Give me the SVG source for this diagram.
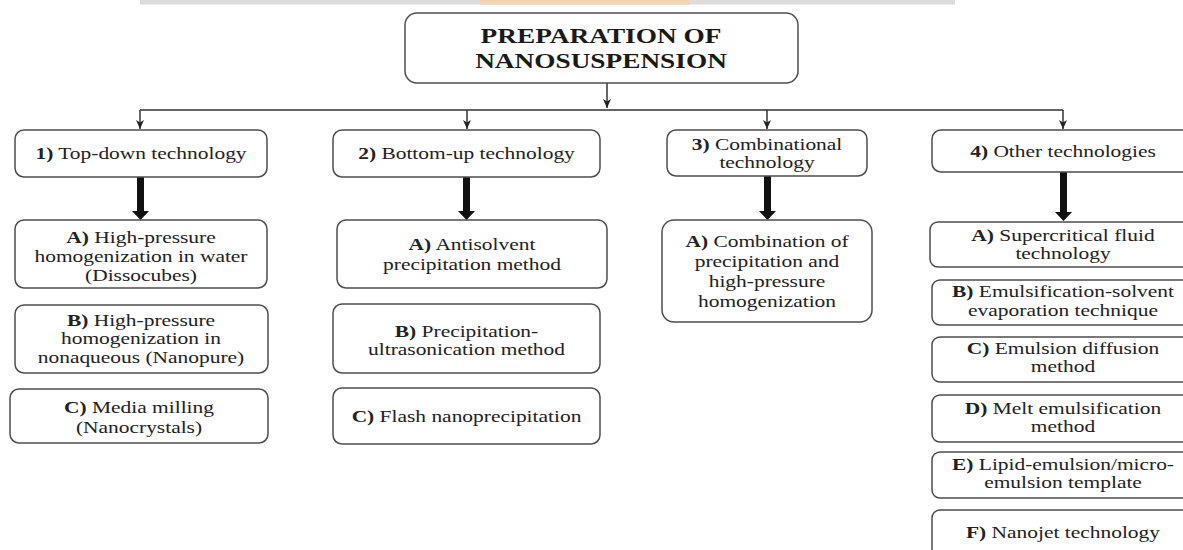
<svg xmlns="http://www.w3.org/2000/svg" width="1183" height="550" viewBox="0 0 1183 550">
<defs>
<style>
.box{fill:#fff;stroke:#4d4d4d;stroke-width:1.5}
.t{font-family:"Liberation Serif","Times New Roman",serif;font-size:16px;fill:#222;text-anchor:middle}
.b{font-weight:bold}
.title{font-size:21px;font-weight:bold;fill:#1a1a1a}
.thin{fill:none;stroke:#333;stroke-width:1.5}
.thick{fill:#111;stroke:none}
</style>
<marker id="ah" markerUnits="userSpaceOnUse" markerWidth="10" markerHeight="10" refX="9" refY="5" orient="auto">
<path d="M0,1 L9,5 L0,9 L2.5,5 z" fill="#222"/>
</marker>
</defs>
<rect width="1183" height="550" fill="#fff"/>
<g id="watermark">
<rect x="140" y="0" width="815" height="4.5" fill="#dcdcdc"/>
<rect x="480" y="0" width="210" height="4.5" fill="#f6d2b0"/>
</g>
<g id="connectors">
<path class="thin" d="M607,83 V108" marker-end="url(#ah)"/>
<path class="thin" d="M140,110 H1063"/>
<path class="thin" d="M140,110 V129" marker-end="url(#ah)"/>
<path class="thin" d="M467,110 V129" marker-end="url(#ah)"/>
<path class="thin" d="M767,110 V129" marker-end="url(#ah)"/>
<path class="thin" d="M1063,110 V129" marker-end="url(#ah)"/>
<path class="thick" d="M137,177 h7 v34 h5 l-8.5,9 l-8.5,-9 h5 z"/>
<path class="thick" d="M463,177 h7 v34 h5 l-8.5,9 l-8.5,-9 h5 z"/>
<path class="thick" d="M764,176 h7 v35 h5 l-8.5,9 l-8.5,-9 h5 z"/>
<path class="thick" d="M1060,172 h7 v40 h5 l-8.5,9 l-8.5,-9 h5 z"/>
</g>
<g id="root">
<rect class="box" x="405" y="13" width="393" height="70" rx="12"/>
<text class="t title" transform="translate(601,0) scale(1.3,1)"><tspan x="0" y="43">PREPARATION OF</tspan><tspan x="0" y="68">NANOSUSPENSION</tspan></text>
</g>
<g id="n1">
<rect class="box" x="15" y="130" width="252" height="47" rx="9"/>
<text class="t" transform="translate(141,159) scale(1.34,1)"><tspan class="b">1)</tspan> Top-down technology</text>
</g>
<g id="n1a">
<rect class="box" x="15" y="220" width="252" height="68" rx="9"/>
<text class="t" transform="translate(141,0) scale(1.34,1)"><tspan x="0" y="243"><tspan class="b">A)</tspan> High-pressure</tspan><tspan x="0" y="262">homogenization in water</tspan><tspan x="0" y="281">(Dissocubes)</tspan></text>
</g>
<g id="n1b">
<rect class="box" x="15" y="305" width="253" height="68" rx="9"/>
<text class="t" transform="translate(141,0) scale(1.34,1)"><tspan x="0" y="326"><tspan class="b">B)</tspan> High-pressure</tspan><tspan x="0" y="344">homogenization in</tspan><tspan x="0" y="363">nonaqueous (Nanopure)</tspan></text>
</g>
<g id="n1c">
<rect class="box" x="10" y="389" width="258" height="54" rx="9"/>
<text class="t" transform="translate(139,0) scale(1.34,1)"><tspan x="0" y="413"><tspan class="b">C)</tspan> Media milling</tspan><tspan x="0" y="433">(Nanocrystals)</tspan></text>
</g>
<g id="n2">
<rect class="box" x="333" y="130" width="267" height="47" rx="9"/>
<text class="t" transform="translate(466.5,159) scale(1.34,1)"><tspan class="b">2)</tspan> Bottom-up technology</text>
</g>
<g id="n2a">
<rect class="box" x="337" y="220" width="270" height="68" rx="9"/>
<text class="t" transform="translate(472,0) scale(1.34,1)"><tspan x="0" y="250"><tspan class="b">A)</tspan> Antisolvent</tspan><tspan x="0" y="270">precipitation method</tspan></text>
</g>
<g id="n2b">
<rect class="box" x="333" y="304" width="267" height="69" rx="9"/>
<text class="t" transform="translate(466.5,0) scale(1.34,1)"><tspan x="0" y="337"><tspan class="b">B)</tspan> Precipitation-</tspan><tspan x="0" y="355">ultrasonication method</tspan></text>
</g>
<g id="n2c">
<rect class="box" x="333" y="388" width="267" height="56" rx="9"/>
<text class="t" transform="translate(466.5,422) scale(1.34,1)"><tspan class="b">C)</tspan> Flash nanoprecipitation</text>
</g>
<g id="n3">
<rect class="box" x="667" y="130" width="200" height="46" rx="9"/>
<text class="t" transform="translate(767,0) scale(1.34,1)"><tspan x="0" y="150"><tspan class="b">3)</tspan> Combinational</tspan><tspan x="0" y="168">technology</tspan></text>
</g>
<g id="n3a">
<rect class="box" x="662" y="220" width="210" height="102" rx="12"/>
<text class="t" transform="translate(767,0) scale(1.34,1)"><tspan x="0" y="247"><tspan class="b">A)</tspan> Combination of</tspan><tspan x="0" y="267">precipitation and</tspan><tspan x="0" y="287">high-pressure</tspan><tspan x="0" y="307">homogenization</tspan></text>
</g>
<g id="n4">
<rect class="box" x="932" y="130" width="262" height="42" rx="9"/>
<text class="t" transform="translate(1063,157) scale(1.34,1)"><tspan class="b">4)</tspan> Other technologies</text>
</g>
<g id="n4a">
<rect class="box" x="930" y="222" width="264" height="45" rx="8"/>
<text class="t" transform="translate(1063,0) scale(1.34,1)"><tspan x="0" y="241"><tspan class="b">A)</tspan> Supercritical fluid</tspan><tspan x="0" y="259">technology</tspan></text>
</g>
<g id="n4b">
<rect class="box" x="932" y="280" width="262" height="45" rx="8"/>
<text class="t" transform="translate(1063,0) scale(1.34,1)"><tspan x="0" y="297"><tspan class="b">B)</tspan> Emulsification-solvent</tspan><tspan x="0" y="316">evaporation technique</tspan></text>
</g>
<g id="n4c">
<rect class="box" x="932" y="337" width="262" height="45" rx="8"/>
<text class="t" transform="translate(1063,0) scale(1.34,1)"><tspan x="0" y="354"><tspan class="b">C)</tspan> Emulsion diffusion</tspan><tspan x="0" y="372">method</tspan></text>
</g>
<g id="n4d">
<rect class="box" x="932" y="395" width="262" height="47" rx="8"/>
<text class="t" transform="translate(1063,0) scale(1.34,1)"><tspan x="0" y="414"><tspan class="b">D)</tspan> Melt emulsification</tspan><tspan x="0" y="432">method</tspan></text>
</g>
<g id="n4e">
<rect class="box" x="932" y="452" width="262" height="46" rx="8"/>
<text class="t" transform="translate(1063,0) scale(1.34,1)"><tspan x="0" y="470"><tspan class="b">E)</tspan> Lipid-emulsion/micro-</tspan><tspan x="0" y="488">emulsion template</tspan></text>
</g>
<g id="n4f">
<rect class="box" x="932" y="510" width="262" height="50" rx="8"/>
<text class="t" transform="translate(1063,538) scale(1.34,1)"><tspan class="b">F)</tspan> Nanojet technology</text>
</g>
</svg>
